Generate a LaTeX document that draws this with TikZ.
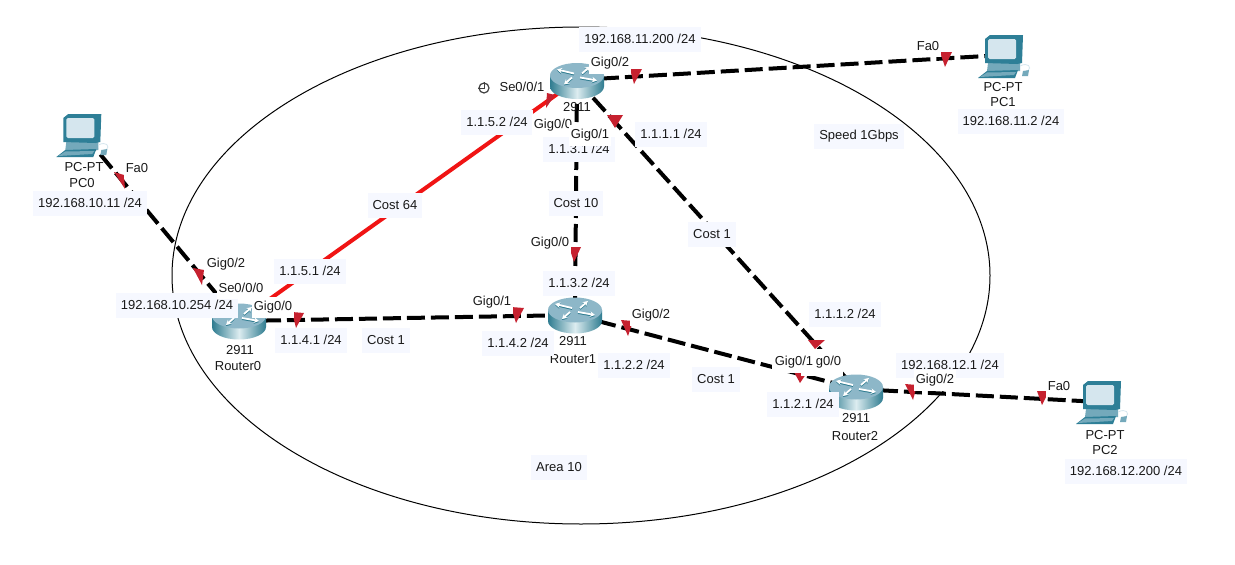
\documentclass[tikz,border=0pt]{standalone}
\usepackage{fontspec}
\setmainfont{Liberation Sans}
\usetikzlibrary{arrows.meta}
\definecolor{notebg}{HTML}{F6F8FF}
\definecolor{tritop}{HTML}{C6212F}
\definecolor{rtop}{HTML}{8DB7C8}
\definecolor{rdark}{HTML}{2F7C90}
\definecolor{rlight}{HTML}{DCECF0}
\definecolor{pcdark}{HTML}{2E7F97}
\definecolor{pcmid}{HTML}{74A9BB}
\definecolor{pclight}{HTML}{D5E6EE}
\definecolor{redlink}{HTML}{F01414}
\tikzset{
  x=1pt,y=-1pt,
  txt/.style={font=\fontsize{13}{15}\selectfont,inner sep=0pt,text=black!90},
  note/.style={txt,fill=notebg,minimum height=25pt,inner xsep=5pt},
  port/.style={txt,fill=white,minimum height=21pt,inner xsep=2pt},
  link/.style={line width=4pt,black,dash pattern=on 18pt off 6pt},
  serial/.style={line width=4pt,redlink},
  light/.style={fill=tritop},
  rarrow/.style={white,line width=1.8pt,-{Stealth[length=5pt,width=5.5pt]}},
  pics/routericon/.style={code={
    \shade[left color=rdark,right color=rdark,middle color=rlight]
      (-27,0) -- (-27,11) arc[start angle=180,end angle=0,x radius=27,y radius=12.5] -- (27,0) -- cycle;
    \fill[rtop] (0,0) ellipse[x radius=27,y radius=12.5];
    \draw[rarrow,rdark] (-3,-1) -- (-20,-5);
    \draw[rarrow,rdark] (5,-1) -- (13,-8);
    \draw[rarrow,rdark] (3,3) -- (20,6);
    \draw[rarrow,rdark] (-5,3) -- (-13,10);
    \draw[rarrow] (-3,-2) -- (-20,-6);
    \draw[rarrow] (5,-2) -- (13,-9);
    \draw[rarrow] (3,2) -- (20,5);
    \draw[rarrow] (-5,2) -- (-13,9);
  }},
  pics/pcicon/.style={code={
    \fill[pcmid] (-16,7) -- (16,7) -- (16,15) -- (-17,15) -- cycle;
    \fill[pcdark] (-19,-17) -- (-14,-21) -- (19,-21) -- (18,7) -- (13,8) -- (-19,7) -- cycle;
    \fill[pclight,rounded corners=1.5pt] (-16,-17) -- (12,-17) -- (12,3) -- (-16,3) -- cycle;
    \fill[pcdark] (-26,22) -- (-17,15) -- (14,14) -- (11,22) -- cycle;
    \fill[pcmid] (-24,21) -- (-17,16.5) -- (12,16) -- (10,19) -- cycle;
    \draw[pclight,line width=.8pt] (16,10) .. controls (24,6) and (28,11) .. (24,15);
    \fill[pcmid] (19,15) -- (25,14) -- (24,20) -- (18,20) -- cycle;
  }}
}
\begin{document}
\begin{tikzpicture}
\useasboundingbox (0,0) rectangle (1235,565);
\fill[white] (0,0) rectangle (1235,565);
\draw[black,line width=1pt] (581,275.5) ellipse[x radius=409,y radius=248.5];

\coordinate (r0) at (239,321);
\coordinate (r1) at (575,315);
\coordinate (r2) at (856,389);
\coordinate (r3) at (577,80);
\coordinate (pc0) at (85,136);
\coordinate (pc1) at (1003,55);
\coordinate (pc2) at (1100,402);

\draw[link] (pc0) -- (r0);
\draw[link] (r0) -- (r1);
\draw[link] (r1) -- (r2);
\draw[link] (r3) -- (r1);
\draw[link] (r3) -- (r2);
\draw[link] (r3) -- (pc1);
\draw[link] (r2) -- (pc2);
\draw[serial] (r0) -- (r3);

\fill[light] (114,172) -- (124,175) -- (125,189) -- cycle;
\fill[light] (193,268) -- (204,270) -- (202,285) -- cycle;
\fill[light] (292,312) -- (304,313) -- (296,328) -- cycle;
\fill[light] (511,307) -- (524,308) -- (516,323) -- cycle;
\fill[light] (621,320) -- (633,321) -- (628,336) -- cycle;
\fill[light] (794,372) -- (806,374) -- (800,383) -- cycle;
\fill[light] (808,340) -- (825,340) -- (815,349) -- cycle;
\fill[light] (607,115) -- (623,115) -- (615,128) -- cycle;
\fill[light] (569,247) -- (581,247) -- (574,262) -- cycle;
\fill[light] (630,69) -- (642,69) -- (634,84) -- cycle;
\fill[light] (940,52) -- (952,52) -- (945,67) -- cycle;
\fill[light] (547,93) -- (555,95) -- (546,108) -- cycle;
\fill[light] (905,384) -- (917,385) -- (913,400) -- cycle;
\fill[light] (1037,391) -- (1049,391) -- (1042,405) -- cycle;

\node[port] (p8) at (822,362) [minimum height=27pt] {Gig0/0};

\pic at (239,316) {routericon};
\pic at (575,310) {routericon};
\pic at (856,387) {routericon};
\pic at (577,75.5) {routericon};
\pic at (82.3,135) {pcicon};
\pic at (1004,56) {pcicon};
\pic at (1102,402) {pcicon};

\node[txt] (t0a) at (84,167) {PC-PT};
\node[txt] (t0b) at (82,183) {PC0};
\node[txt] (t1a) at (1003,87) {PC-PT};
\node[txt] (t1b) at (1003,102) {PC1};
\node[txt] (t2a) at (1105,435) {PC-PT};
\node[txt] (t2b) at (1105,450) {PC2};
\node[txt] (m0a) at (240,350) {2911};
\node[txt] (m0b) at (238,366) {Router0};
\node[txt] (m1a) at (573,341) {2911};
\node[txt] (m1b) at (573,359) {Router1};
\node[txt] (m2a) at (856,418) {2911};
\node[txt] (m2b) at (855,436) {Router2};
\node[txt] (m3a) at (577,107) {2911};

\node[note] (a1) at (640,39) {192.168.11.200 /24};
\node[note] (a2) at (497,122) {1.1.5.2 /24};
\node[note] (a3) at (579,149) {1.1.3.1 /24};
\node[note] (a4) at (671,134) {1.1.1.1 /24};
\node[note] (a5) at (859,136) {Speed 1Gbps};
\node[note] (a6) at (395,205) {Cost 64};
\node[note] (a7) at (576,203) {Cost 10};
\node[note] (a8) at (712,234) {Cost 1};
\node[note] (a9) at (386,340) {Cost 1};
\node[note] (a10) at (716,379) {Cost 1};
\node[note] (a11) at (310,271) {1.1.5.1 /24};
\node[note] (a12) at (177,305) {192.168.10.254 /24};
\node[note] (a13) at (311,340) {1.1.4.1 /24};
\node[note] (a14) at (579,283) {1.1.3.2 /24};
\node[note] (a15) at (518,343) {1.1.4.2 /24};
\node[note] (a16) at (634,365) {1.1.2.2 /24};
\node[note] (a17) at (845,314) {1.1.1.2 /24};
\node[note] (a18) at (803,404) {1.1.2.1 /24};
\node[note] (a19) at (950,365) {192.168.12.1 /24};
\node[note] (a20) at (1011,121) {192.168.11.2 /24};
\node[note] (a21) at (1126,471) {192.168.12.200 /24};
\node[note] (a22) at (90,203) {192.168.10.11 /24};
\node[note] (a23) at (559,467) {Area 10};

\node[port] (p1) at (137,168) {Fa0};
\node[port] (p2) at (226,264) {Gig0/2};
\node[port] (p3) at (241,288) {Se0/0/0};
\node[port] (p4) at (273,307) {Gig0/0};
\node[port] (p5) at (492,302) {Gig0/1};
\node[port] (p6) at (550,243) {Gig0/0};
\node[port] (p7) at (651,315) {Gig0/2};
\node[port,inner xsep=3pt] (p9) at (794,362) {Gig0/1};
\node[port] (p10) at (935,380) {Gig0/2};
\node[port] (p11) at (1059,386) {Fa0};
\node[port] (p12) at (928,46) {Fa0};
\node[port] (p13) at (610,63) {Gig0/2};
\node[port] (p14) at (522,87) {Se0/0/1};
\node[port] (p15) at (553,125) {Gig0/0};
\node[port] (p16) at (590,135) {Gig0/1};

\node[draw=black!75,fill=white,circle,line width=1.2pt,minimum size=10pt,inner sep=0pt] (clk) at (484,88) {};
\draw[black!75,line width=.8pt] (clk.north) -- (clk.center) -- (clk.west);
\end{tikzpicture}
\end{document}
